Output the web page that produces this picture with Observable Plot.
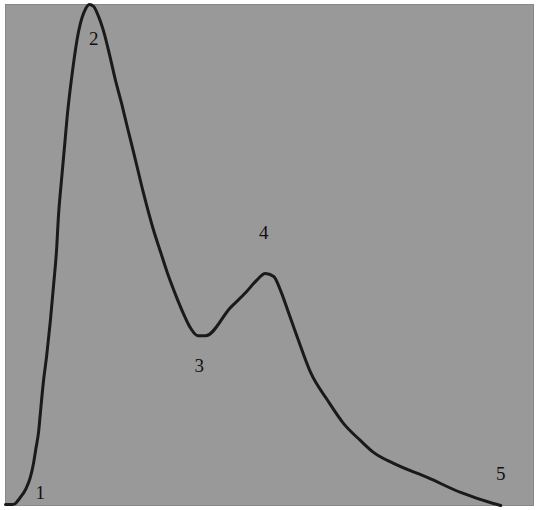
<!DOCTYPE html>
<html>
<head>
<meta charset="utf-8">
<script src="https://cdn.jsdelivr.net/npm/d3@7"></script>
<script src="https://cdn.jsdelivr.net/npm/@observablehq/plot@0.6"></script>
<style>
  html, body { margin: 0; padding: 0; background: #ffffff; }
  #chart { width: 538px; height: 510px; }
</style>
</head>
<body>
<div id="chart"></div>
<script>
// Curve samples (x: relative time, y: relative intensity)
const curveX = [0, 1.3, 1.7, 2.8, 3.8, 4.7, 5.3, 5.7, 6.3, 6.6, 7.2, 7.8, 8.5, 9.1, 9.7, 10.0, 10.6, 11.2, 11.7, 12.7, 13.8, 15.2, 15.9, 16.7, 17.4, 18.6, 19.7, 20.8, 22.0, 23.1, 24.4, 26.1, 28.0, 29.4, 30.7, 32.2, 33.7, 35.0, 36.4, 37.9, 42.6, 45.5, 47.7, 49.2, 50.8, 52.1, 53.6, 55.3, 57.8, 61.0, 64.0, 67.2, 69.7, 73.5, 79.9, 86.2, 92.4, 93.8];
const curveY = [0.2, 0.2, 0.3, 1.6, 3.2, 5.6, 8.4, 11.0, 15.0, 18.4, 24.9, 29.9, 36.9, 43.9, 51.5, 57.3, 64.9, 71.9, 77.8, 86.8, 94.4, 99.2, 100, 99.6, 98.2, 94.6, 90.0, 85.0, 80.2, 75.4, 69.9, 62.5, 55.1, 50.5, 46.3, 42.1, 38.3, 35.5, 33.9, 33.9, 39.5, 42.5, 45.1, 46.3, 45.7, 42.9, 38.5, 33.5, 26.5, 21.0, 16.4, 13.0, 10.6, 8.4, 5.6, 2.6, 0.4, 0];

// Point labels
const labels = ["1", "2", "3", "4", "5"];
const labelX = [6.6, 16.7, 36.7, 48.9, 93.8];
const labelY = [2.6, 93.2, 27.9, 54.5, 6.4];

const curve = curveX.map((x, i) => ({x, y: curveY[i]}));
const labelData = labels.map((t, i) => ({t, x: labelX[i], y: labelY[i]}));

const chart = Plot.plot({
  width: 538,
  height: 510,
  marginLeft: 5,
  marginRight: 5,
  marginTop: 4,
  marginBottom: 5,
  x: {domain: [0, 100], axis: null},
  y: {domain: [0, 100], axis: null},
  style: {background: "#ffffff", fontFamily: "'Liberation Serif', serif"},
  marks: [
    Plot.frame({fill: "#999999", stroke: "#888888", strokeWidth: 1}),
    Plot.line(curve, {x: "x", y: "y", curve: "monotone-x", stroke: "#1a1a1a", strokeWidth: 3}),
    Plot.text(labelData, {x: "x", y: "y", text: "t", fontSize: 19, fill: "#111111", fontFamily: "'Liberation Serif', serif"})
  ]
});
document.getElementById("chart").appendChild(chart);
</script>
</body>
</html>
